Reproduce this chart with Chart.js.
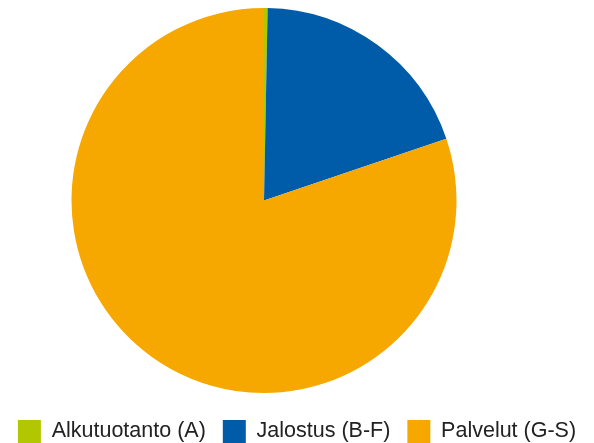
<!DOCTYPE html>
<html>
<head>
    <style>
        html, body { margin: 0; padding: 0; background: #fff; overflow: hidden; }
        #wrap { width: 594px; height: 453px; }
    </style>
</head>
<body>
    <div id="wrap"><canvas id="pieChart"></canvas></div>

    <script src="https://cdn.jsdelivr.net/npm/chart.js"></script>
    <script>
        const labels = ['Alkutuotanto (A)', 'Jalostus (B-F)', 'Palvelut (G-S)'];
        const shares = [0.3, 19.5, 80.2];
        const colors = ['#b3c700', '#005ca9', '#f6a800'];

        // pie sits left of centre and a bit above the legend in the original
        const shiftPie = {
            id: 'shiftPie',
            afterLayout(chart) {
                chart.chartArea.right -= 66;
                chart.chartArea.width -= 66;
                chart.chartArea.bottom -= 10;
                chart.chartArea.height -= 10;
            }
        };

        const ctx = document.getElementById('pieChart').getContext('2d');
        new Chart(ctx, {
            type: 'pie',
            data: {
                labels: labels,
                datasets: [{
                    data: shares,
                    backgroundColor: colors,
                    borderWidth: 0
                }]
            },
            options: {
                responsive: true,
                maintainAspectRatio: false,
                animation: false,
                layout: { padding: { top: 8, right: 0, left: 0, bottom: 0 } },
                plugins: {
                    tooltip: { enabled: false },
                    legend: {
                        position: 'bottom',
                        labels: {
                            boxWidth: 23,
                            boxHeight: 23,
                            padding: 17,
                            color: '#222',
                            font: { family: 'Liberation Sans', size: 21.5 }
                        }
                    }
                }
            },
            plugins: [shiftPie]
        });
    </script>
</body>
</html>
